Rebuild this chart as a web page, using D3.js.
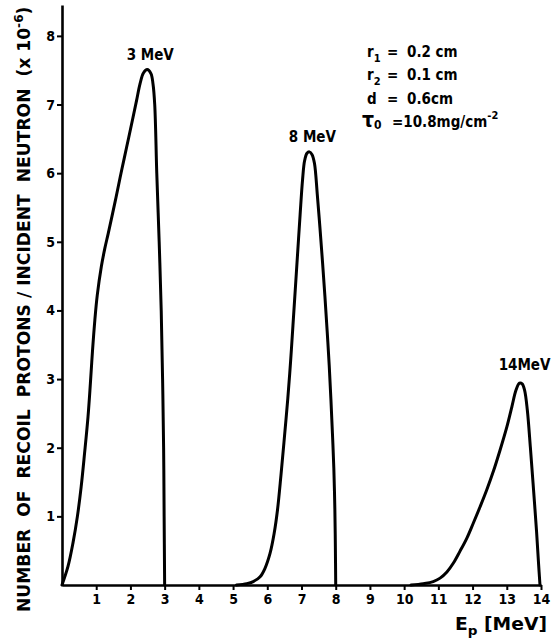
<!DOCTYPE html>
<html>
<head>
<meta charset="utf-8">
<script src="https://cdn.jsdelivr.net/npm/d3@7"></script>
<style>
  html, body { margin: 0; padding: 0; background: #fff; }
  svg { display: block; }
  text { font-family: 'DejaVu Sans Condensed', 'Liberation Sans Narrow', 'DejaVu Sans', sans-serif; font-stretch: condensed; font-weight: bold; fill: #000; white-space: pre; }
</style>
</head>
<body>
<svg id="chart" width="553" height="639"></svg>
<script>
// Recoil proton spectra for three neutron energies
const energy3 = [0.00, 0.175, 0.32, 0.45, 0.56, 0.66, 0.76, 0.83, 0.89, 0.96, 1.03, 1.15, 1.25, 1.35, 1.46, 1.58, 1.70, 1.82, 1.95, 2.07, 2.18, 2.28, 2.38, 2.49, 2.60, 2.66, 2.71, 2.77, 2.84, 2.90, 2.94, 2.97, 2.985, 3.00];
const counts3 = [0.00, 0.27, 0.61, 1.00, 1.43, 1.92, 2.45, 2.94, 3.40, 3.86, 4.22, 4.64, 4.90, 5.12, 5.37, 5.65, 5.94, 6.22, 6.52, 6.80, 7.06, 7.30, 7.46, 7.51, 7.45, 7.30, 7.00, 6.00, 5.00, 4.00, 3.00, 2.00, 1.00, 0.00];

const energy8 = [5.10, 5.40, 5.59, 5.79, 5.93, 6.08, 6.20, 6.30, 6.40, 6.50, 6.60, 6.68, 6.75, 6.82, 6.89, 6.96, 7.03, 7.09, 7.16, 7.23, 7.31, 7.38, 7.46, 7.54, 7.615, 7.685, 7.75, 7.81, 7.86, 7.905, 7.945, 7.975, 7.99, 8.00];
const counts8 = [0.00, 0.02, 0.05, 0.12, 0.24, 0.46, 0.75, 1.10, 1.60, 2.15, 2.72, 3.25, 3.78, 4.32, 4.86, 5.40, 5.90, 6.18, 6.29, 6.31, 6.27, 6.14, 5.70, 5.20, 4.70, 4.20, 3.70, 3.20, 2.70, 2.20, 1.70, 1.10, 0.55, 0.00];

const energy14 = [10.20, 10.56, 10.85, 11.05, 11.25, 11.44, 11.63, 11.83, 12.02, 12.22, 12.41, 12.61, 12.80, 13.00, 13.15, 13.27, 13.37, 13.45, 13.52, 13.60, 13.69, 13.78, 13.87, 13.93, 13.97];
const counts14 = [0.00, 0.02, 0.05, 0.10, 0.19, 0.32, 0.49, 0.68, 0.90, 1.14, 1.38, 1.66, 1.96, 2.30, 2.60, 2.84, 2.94, 2.93, 2.84, 2.55, 2.00, 1.40, 0.78, 0.30, 0.00];

const seriesLabels = ["3 MeV", "8 MeV", "14MeV"];
const xTickValues = [1, 2, 3, 4, 5, 6, 7, 8, 9, 10, 11, 12, 13, 14];
const yTickValues = [1, 2, 3, 4, 5, 6, 7, 8];

const svg = d3.select("#chart");
svg.append("rect").attr("width", 553).attr("height", 639).attr("fill", "#fff");

const x = d3.scaleLinear().domain([0, 14]).range([62, 541]);
const y = d3.scaleLinear().domain([0, 8.45]).range([585, 5]);

// axes
const xAxis = svg.append("g")
  .attr("transform", `translate(0,${y(0)})`)
  .call(d3.axisBottom(x).tickValues(xTickValues).tickSize(5).tickSizeOuter(0).tickPadding(4).tickFormat(d3.format("d")));
const yAxis = svg.append("g")
  .attr("transform", `translate(${x(0)},0)`)
  .call(d3.axisLeft(y).tickValues(yTickValues).tickSize(5).tickSizeOuter(0).tickPadding(2).tickFormat(d3.format("d")));

[xAxis, yAxis].forEach(g => {
  g.select(".domain").attr("stroke", "#000").attr("stroke-width", 2.6);
  g.selectAll(".tick line").attr("stroke", "#000").attr("stroke-width", 2);
  g.selectAll(".tick text").attr("fill", "#000")
    .style("font-size", "14px").style("font-weight", "bold")
    .style("font-family", "'DejaVu Sans Condensed','Liberation Sans Narrow','DejaVu Sans',sans-serif");
});

// spectra
const line = d3.line()
  .x(d => x(d[0]))
  .y(d => y(d[1]))
  .curve(d3.curveCatmullRom.alpha(0.5));

const series = [
  d3.zip(energy3, counts3),
  d3.zip(energy8, counts8),
  d3.zip(energy14, counts14)
];
svg.append("g").selectAll("path").data(series).join("path")
  .attr("d", line)
  .attr("fill", "none")
  .attr("stroke", "#000")
  .attr("stroke-width", 3)
  .attr("stroke-linejoin", "round")
  .attr("stroke-linecap", "round");

// peak labels
const peakIdx = series.map(s => d3.maxIndex(s, d => d[1]));
const labelPos = [
  { dx: 3, dy: -10, anchor: "middle" },
  { dx: 3, dy: -10, anchor: "middle" },
  { dx: 31, dy: -13, anchor: "end" }
];
svg.append("g").selectAll("text").data(series).join("text")
  .attr("x", (s, i) => x(s[peakIdx[i]][0]) + labelPos[i].dx)
  .attr("y", (s, i) => y(s[peakIdx[i]][1]) + labelPos[i].dy)
  .attr("text-anchor", (s, i) => labelPos[i].anchor)
  .style("font-size", "15px")
  .text((s, i) => seriesLabels[i]);

// Y axis title, stretched along the axis
const yTitle = svg.append("text")
  .style("font-size", "17px");
yTitle.append("tspan").text("NUMBER  OF  RECOIL  PROTONS / INCIDENT  NEUTRON  (x 10");
yTitle.append("tspan").attr("dy", -7).style("font-size", "12px").text("-6");
yTitle.append("tspan").attr("dy", 7).text(")");
const yTitleLen = yTitle.node().getComputedTextLength();
yTitle.attr("transform", `translate(30,612) rotate(-90) scale(${606 / yTitleLen},1)`);

// X axis title
const xTitle = svg.append("text").style("font-size", "18px");
xTitle.append("tspan").text("E");
xTitle.append("tspan").attr("dy", 5).style("font-size", "13px").text("p");
xTitle.append("tspan").attr("dy", -5).text(" [MeV]");
const xTitleLen = xTitle.node().getComputedTextLength();
xTitle.attr("transform", `translate(455,630) scale(${92 / xTitleLen},1)`);

// detector parameters
const params = svg.append("g").style("font-size", "15px");
const pRows = [
  { sym: "r", sub: "1", val: "0.2 cm", yb: 57 },
  { sym: "r", sub: "2", val: "0.1 cm", yb: 80 },
  { sym: "d", sub: "", val: "0.6cm", yb: 104 }
];
pRows.forEach(r => {
  const t = params.append("text").attr("x", 367).attr("y", r.yb);
  t.append("tspan").text(r.sym);
  if (r.sub) t.append("tspan").attr("dy", 5).style("font-size", "11px").text(r.sub);
  params.append("text").attr("x", 387).attr("y", r.yb).text("=");
  params.append("text").attr("x", 407).attr("y", r.yb).text(r.val);
});
const tau = params.append("text").attr("x", 362).attr("y", 127);
tau.append("tspan").style("font-size", "21px").text("τ");
tau.append("tspan").attr("dy", 2).style("font-size", "12px").text("0");
const tauVal = params.append("text").attr("x", 392).attr("y", 127);
tauVal.append("tspan").text("=10.8mg/cm");
tauVal.append("tspan").attr("dy", -8).style("font-size", "11px").text("-2");
</script>
</body>
</html>
